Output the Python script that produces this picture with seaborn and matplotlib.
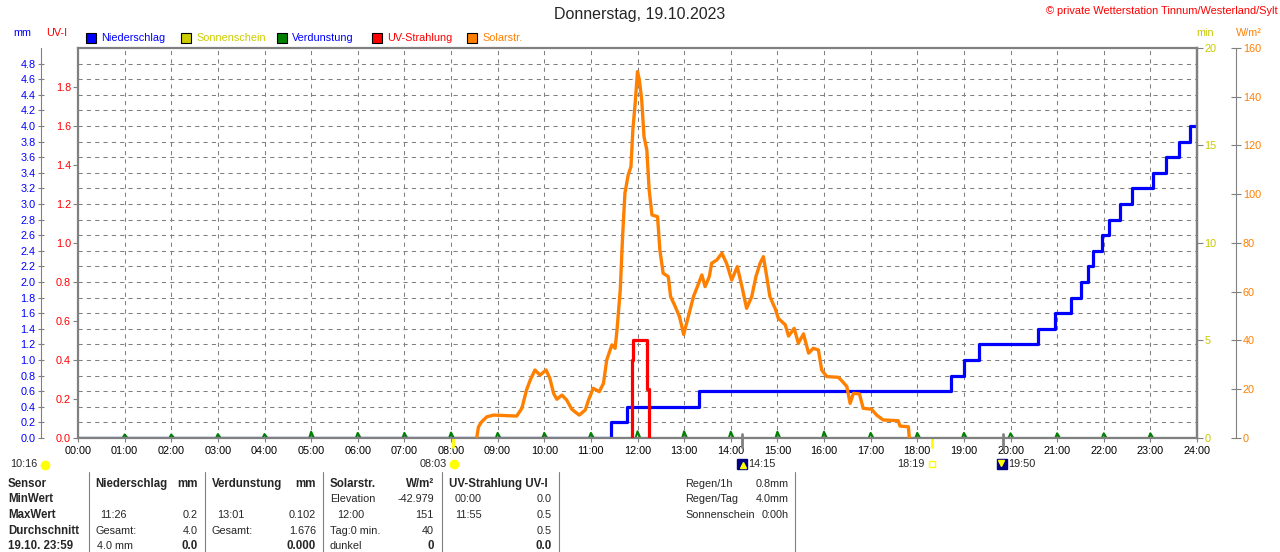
import numpy as np
import matplotlib
matplotlib.use("Agg")
import matplotlib.pyplot as plt
import matplotlib.transforms as mtransforms
from matplotlib.lines import Line2D
import seaborn as sns

sns.set_style("white")
plt.rcParams['font.family'] = ['Liberation Sans', 'DejaVu Sans']

# Solarstrahlung (W/m²)
solar_h = [8.55, 8.59, 8.66, 8.77, 8.91, 9.41, 9.52, 9.62, 9.70, 9.80, 9.91, 10.04, 10.12, 10.20,
           10.27, 10.38, 10.48, 10.59, 10.75, 10.88, 10.95, 11.05, 11.18, 11.27, 11.34, 11.45,
           11.52, 11.56, 11.63, 11.68, 11.73, 11.80, 11.86, 11.90, 11.95, 12.00, 12.04, 12.09,
           12.14, 12.20, 12.25, 12.31, 12.43, 12.48, 12.55, 12.66, 12.71, 12.81, 12.90, 12.99,
           13.09, 13.20, 13.27, 13.38, 13.45, 13.54, 13.59, 13.70, 13.81, 13.91, 14.02, 14.14,
           14.24, 14.34, 14.45, 14.54, 14.63, 14.70, 14.76, 14.84, 14.95, 15.02, 15.17, 15.24,
           15.36, 15.45, 15.56, 15.67, 15.77, 15.88, 15.95, 16.06, 16.31, 16.40, 16.49, 16.56,
           16.63, 16.76, 16.84, 17.02, 17.13, 17.27, 17.59, 17.63, 17.81, 17.83]
solar_w = [0, 4.6, 6.7, 8.7, 9.4, 9.0, 12.2, 19.7, 23.8, 27.9, 25.8, 27.9, 24.5, 18.3,
           15.9, 17.6, 15.6, 11.8, 9.4, 11.5, 15.6, 20.4, 19.0, 22.4, 32.0, 38.2,
           36.8, 44.3, 60.7, 82.6, 100.4, 107.9, 111.3, 126.4, 137.3, 150.3, 146.9, 138.7,
           123.6, 118.2, 101.8, 91.5, 90.8, 77.1, 67.6, 66.2, 58.0, 53.9, 49.8, 42.5,
           49.8, 58.0, 61.4, 66.9, 62.1, 66.2, 71.7, 73.0, 75.8, 71.7, 64.8, 70.3,
           62.1, 53.2, 58.0, 66.2, 71.7, 74.4, 67.6, 58.0, 53.2, 49.1, 46.4, 41.8,
           45.0, 38.9, 42.7, 34.8, 36.8, 36.1, 27.9, 25.2, 24.9, 23.1, 21.1, 14.2,
           18.3, 18.1, 12.2, 11.8, 9.4, 7.4, 7.1, 4.9, 4.6, 0]

# Niederschlag, Summe (mm)
rain_h = [0, 11.43, 11.78, 13.31, 18.72, 19.01, 19.33, 20.60, 20.96, 21.29, 21.51, 21.66,
          21.78, 21.97, 22.12, 22.34, 22.60, 23.06, 23.34, 23.62, 23.84, 24.0]
rain_mm = [0, 0.2, 0.4, 0.6, 0.8, 1.0, 1.2, 1.4, 1.6, 1.8, 2.0, 2.2,
           2.4, 2.6, 2.8, 3.0, 3.2, 3.4, 3.6, 3.8, 4.0, 4.0]

# UV-Index
uv_h = [11.875, 11.88, 11.91, 12.21, 12.25]
uv_val = [0, 0.4, 0.5, 0.25, 0]

# Verdunstung (mm), stündlich
evap_hour = list(range(1, 24))
evap_mm = [0.045, 0.045, 0.05, 0.05, 0.08, 0.065, 0.065, 0.07, 0.065, 0.065, 0.065, 0.085,
           0.085, 0.08, 0.08, 0.08, 0.065, 0.065, 0.065, 0.06, 0.06, 0.06, 0.06]

hour_labels = [f"{h:02d}:00" for h in range(25)]
mm_ticks = np.round(np.arange(0, 4.81, 0.2), 1)
uv_ticks = np.round(np.arange(0, 1.81, 0.2), 1)
min_ticks = [0, 5, 10, 15, 20]
sol_ticks = list(range(0, 161, 20))

# Sonne / Mond
sun_rise, sun_set = 8.05, 18.317
moon_rise, moon_set = 14.25, 19.833

W, H = 1280, 552
GRAY = '#808080'
BLUE = '#0000ff'
RED = '#ff0000'
OLIVE = '#c8c800'
ORANGE = '#ff8000'
GREEN = '#008000'

def fx(x):
    return x / W

def fy(y):
    return 1 - y / H

fig = plt.figure(figsize=(12.8, 5.52), dpi=100)
ax = fig.add_axes([fx(78), fy(438), (1197 - 78) / W, (438 - 48) / H])
ax_uv = ax.twinx()
ax_min = ax.twinx()
ax_sol = ax.twinx()

# Verdunstung als kleine Spitzen
evap_t, evap_v = [0], [0]
for h, v in zip(evap_hour, evap_mm):
    evap_t += [h - 0.04, h, h + 0.06]
    evap_v += [0, v, 0]
evap_t.append(24)
evap_v.append(0)
sns.lineplot(x=evap_t, y=evap_v, ax=ax, color=GREEN, lw=1.5, estimator=None, sort=False)
sns.lineplot(x=rain_h, y=rain_mm, ax=ax, color=BLUE, lw=2.3, drawstyle='steps-post',
             estimator=None, sort=False)
sns.lineplot(x=uv_h, y=uv_val, ax=ax_uv, color=RED, lw=2.3, drawstyle='steps-post',
             estimator=None, sort=False)
sns.lineplot(x=solar_h, y=solar_w, ax=ax_sol, color=ORANGE, lw=2.4, estimator=None, sort=False)

ax.set_xlim(0, 24)
ax.set_ylim(0, 5)
ax_uv.set_ylim(0, 2)
ax_min.set_ylim(0, 20)
ax_sol.set_ylim(0, 160)

ax.set_xticks(range(25))
ax.set_xticklabels(hour_labels)
ax.set_yticks(mm_ticks)
ax.set_yticklabels([f"{v:.1f}" for v in mm_ticks])
ax.grid(True, ls=(0, (4, 4)), color=GRAY, lw=0.75)
ax.set_xlabel('')
for a in (ax_uv, ax_min, ax_sol):
    a.set_ylabel('')
    a.grid(False)

# linke Achse mm
for s in ('top', 'right', 'bottom'):
    ax.spines[s].set_color(GRAY)
    ax.spines[s].set_linewidth(1.6)
ax.spines['left'].set_position(('outward', 26.5))
ax.spines['left'].set_color(GRAY)
ax.spines['left'].set_linewidth(0.8)
ax.tick_params(axis='y', labelcolor=BLUE, color=GRAY, direction='inout', length=5,
               width=0.8, labelsize=7.8, pad=1.5, left=True)
ax.tick_params(axis='x', labelcolor='black', color=GRAY, direction='out', length=3,
               width=0.8, labelsize=7.8, pad=3, bottom=True)

# UV-I Achse links am Rahmen
ax_uv.yaxis.tick_left()
for s in ('top', 'right', 'bottom'):
    ax_uv.spines[s].set_visible(False)
ax_uv.spines['left'].set_color(GRAY)
ax_uv.spines['left'].set_linewidth(1.6)
ax_uv.set_yticks(uv_ticks)
ax_uv.set_yticklabels([f"{v:.1f}" for v in uv_ticks])
ax_uv.tick_params(axis='y', labelcolor=RED, color=GRAY, direction='out', length=3.5,
                  width=0.8, labelsize=7.8, pad=1.5)

# min Achse rechts am Rahmen
for s in ('top', 'left', 'bottom'):
    ax_min.spines[s].set_visible(False)
ax_min.spines['right'].set_color(GRAY)
ax_min.spines['right'].set_linewidth(1.6)
ax_min.set_yticks(min_ticks)
ax_min.tick_params(axis='y', labelcolor=OLIVE, color=GRAY, direction='out', length=4,
                   width=0.8, labelsize=7.8, pad=1.5)

# W/m² Achse rechts aussen
for s in ('top', 'left', 'bottom'):
    ax_sol.spines[s].set_visible(False)
ax_sol.spines['right'].set_position(('outward', 28))
ax_sol.spines['right'].set_color(GRAY)
ax_sol.spines['right'].set_linewidth(0.8)
ax_sol.set_yticks(sol_ticks)
ax_sol.tick_params(axis='y', labelcolor=ORANGE, color=GRAY, direction='inout', length=7,
                   width=0.8, labelsize=7.8, pad=1.5)

# Sonnen- und Mondzeiten unter der Achse
trans = mtransforms.blended_transform_factory(ax.transData, ax.transAxes)
for t in (sun_rise, sun_set):
    ax.plot([t, t], [0, -0.022], color='#ffff00', lw=2, transform=trans, clip_on=False)
for t in (moon_rise, moon_set):
    ax.plot([t, t], [0.01, -0.022], color=GRAY, lw=2, transform=trans, clip_on=False)

fs = 7.8
fsb = 8.3
fig.text(fx(10), fy(464), "10:16", fontsize=fs, ha='left', va='center')
fig.add_artist(Line2D([fx(45)], [fy(465)], marker='o', ms=6, color='#ffff00',
                      transform=fig.transFigure))
fig.text(fx(447), fy(464), "08:03", fontsize=fs, ha='right', va='center')
fig.add_artist(Line2D([fx(454)], [fy(464)], marker='o', ms=6, color='#ffff00',
                      transform=fig.transFigure))
fig.add_artist(Line2D([fx(742)], [fy(464)], marker='s', ms=6.5, color='#000080',
                      transform=fig.transFigure))
fig.add_artist(Line2D([fx(743)], [fy(465)], marker='^', ms=4, color='#ffff00',
                      transform=fig.transFigure))
fig.text(fx(748), fy(464), "14:15", fontsize=fs, ha='left', va='center')
fig.text(fx(925), fy(464), "18:19", fontsize=fs, ha='right', va='center')
fig.add_artist(Line2D([fx(932)], [fy(464)], marker='s', ms=4, mfc='none', mec='#ffff00',
                      transform=fig.transFigure))
fig.add_artist(Line2D([fx(1002)], [fy(464)], marker='s', ms=6.5, color='#000080',
                      transform=fig.transFigure))
fig.add_artist(Line2D([fx(1001)], [fy(463)], marker='v', ms=4, color='#ffff00',
                      transform=fig.transFigure))
fig.text(fx(1008), fy(464), "19:50", fontsize=fs, ha='left', va='center')

# Titel und Kopfzeile
fig.text(0.5, fy(15), "Donnerstag, 19.10.2023", fontsize=11.5, ha='center', va='center')
fig.text(fx(1278), fy(11), "© private Wetterstation Tinnum/Westerland/Sylt", fontsize=7.9,
         color=RED, ha='right', va='center')
fig.text(fx(22), fy(33), "mm", fontsize=fs, color=BLUE, ha='center', va='center')
fig.text(fx(57), fy(33), "UV-I", fontsize=fs, color=RED, ha='center', va='center')
fig.text(fx(1205), fy(33), "min", fontsize=fs, color=OLIVE, ha='center', va='center')
fig.text(fx(1249), fy(33), "W/m²", fontsize=fs, color=ORANGE, ha='center', va='center')

legend_items = [("Niederschlag", BLUE, BLUE, 91), ("Sonnenschein", '#cccc00', '#cccc00', 186),
                ("Verdunstung", GREEN, BLUE, 282), ("UV-Strahlung", RED, RED, 377),
                ("Solarstr.", ORANGE, ORANGE, 472)]
for name, box, tc, x in legend_items:
    fig.add_artist(Line2D([fx(x)], [fy(38)], marker='s', ms=6.5, mfc=box, mec='black',
                          mew=0.8, transform=fig.transFigure))
    fig.text(fx(x + 10), fy(38), name, fontsize=fs, color=tc, ha='left', va='center')

# Tabelle unten
for x in (89, 205, 323, 442, 559, 795):
    fig.add_artist(Line2D([fx(x), fx(x)], [fy(472), 0], color=GRAY, lw=0.8,
                          transform=fig.transFigure))

rows_y = [484, 499.5, 515, 530.5, 546]
row_heads = ["Sensor", "MinWert", "MaxWert", "Durchschnitt", "19.10. 23:59"]
for y, t in zip(rows_y, row_heads):
    fig.text(fx(8), fy(y), t, fontsize=fsb, fontweight='bold', ha='left', va='center')

left_cells = [
    (95, 0, "Niederschlag", 'left', True), (198, 0, "mm", 'right', True),
    (212, 0, "Verdunstung", 'left', True), (316, 0, "mm", 'right', True),
    (330, 0, "Solarstr.", 'left', True), (434, 0, "W/m²", 'right', True),
    (449, 0, "UV-Strahlung UV-I", 'left', True),
    (330, 1, "Elevation", 'left', False), (434, 1, "-42.979", 'right', False),
    (455, 1, "00:00", 'left', False), (552, 1, "0.0", 'right', False),
    (100, 2, "11:26", 'left', False), (198, 2, "0.2", 'right', False),
    (217, 2, "13:01", 'left', False), (316, 2, "0.102", 'right', False),
    (337, 2, "12:00", 'left', False), (434, 2, "151", 'right', False),
    (455, 2, "11:55", 'left', False), (552, 2, "0.5", 'right', False),
    (95, 3, "Gesamt:", 'left', False), (198, 3, "4.0", 'right', False),
    (212, 3, "Gesamt:", 'left', False), (316, 3, "1.676", 'right', False),
    (330, 3, "Tag:0 min.", 'left', False), (434, 3, "40", 'right', False),
    (552, 3, "0.5", 'right', False),
    (97, 4, "4.0 mm", 'left', False), (198, 4, "0.0", 'right', True),
    (316, 4, "0.000", 'right', True), (330, 4, "dunkel", 'left', False),
    (434, 4, "0", 'right', True), (552, 4, "0.0", 'right', True),
    (685, 0, "Regen/1h", 'left', False), (789, 0, "0.8mm", 'right', False),
    (685, 1, "Regen/Tag", 'left', False), (789, 1, "4.0mm", 'right', False),
    (685, 2, "Sonnenschein", 'left', False), (789, 2, "0:00h", 'right', False),
]
for x, r, t, ha, bold in left_cells:
    fig.text(fx(x), fy(rows_y[r]), t, fontsize=fsb if bold else fs, ha=ha, va='center',
             fontweight='bold' if bold else 'normal')

fig.savefig("out.png", dpi=100)
